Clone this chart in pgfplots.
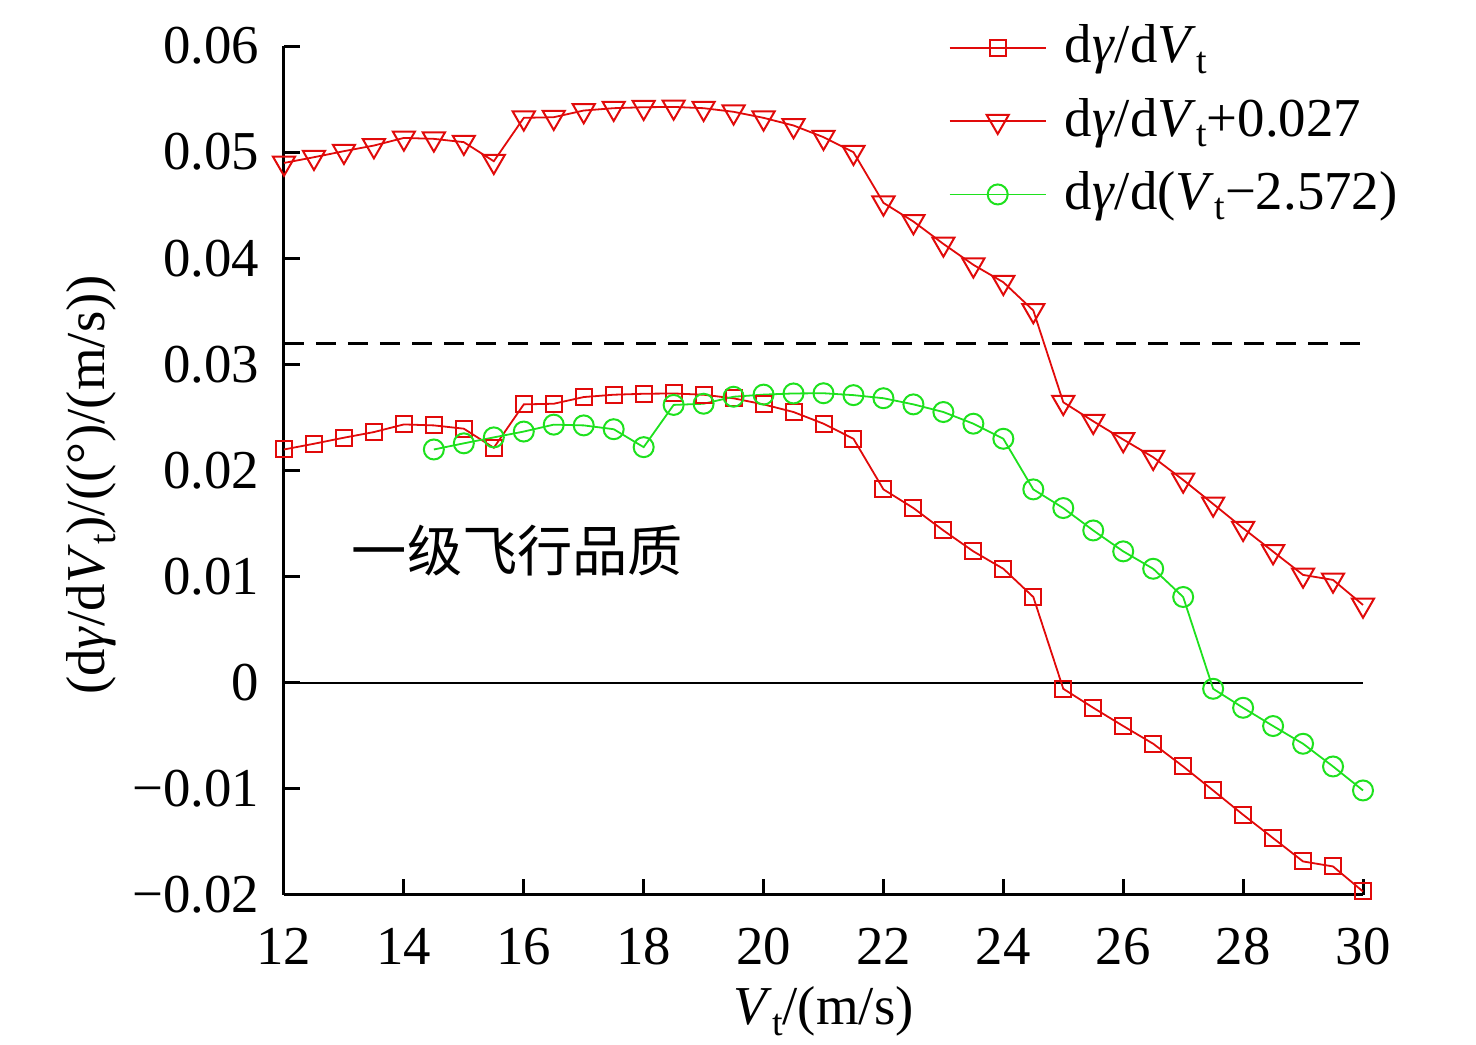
\documentclass[border=0pt]{standalone}
\usepackage{fontspec}
\setmainfont{Liberation Serif}
\newfontfamily\cjk{Noto Sans CJK SC}
\usepackage{pgfplots}
\usepackage{pgfplotstable}
\pgfplotsset{compat=1.18}
\definecolor{myred}{RGB}{225,10,10}
\definecolor{mygreen}{RGB}{30,225,30}
\newcommand\sub[1]{\raisebox{-2.6pt}{\fontsize{9.5pt}{10pt}\selectfont #1}}

\pgfplotstableread{
x y
12 0.02198
12.5 0.02252
13 0.02309
13.5 0.02362
14 0.02434
14.5 0.02425
15 0.02394
15.5 0.02214
16 0.02623
16.5 0.02629
17 0.02692
17.5 0.02714
18 0.02723
18.5 0.02726
19 0.02714
19.5 0.02680
20 0.02623
20.5 0.02551
21 0.02441
21.5 0.02299
22 0.01822
22.5 0.01646
23 0.01435
23.5 0.01238
24 0.01074
24.5 0.00808
25 -0.00057
25.5 -0.00236
26 -0.00408
26.5 -0.00575
27 -0.00789
27.5 -0.01015
28 -0.01244
28.5 -0.01464
29 -0.01684
29.5 -0.01731
30 -0.01967
}\tabA

\pgfplotstableread{
x y
12 0.04898
12.5 0.04952
13 0.05009
13.5 0.05062
14 0.05134
14.5 0.05125
15 0.05094
15.5 0.04914
16 0.05323
16.5 0.05329
17 0.05392
17.5 0.05414
18 0.05423
18.5 0.05426
19 0.05414
19.5 0.05380
20 0.05323
20.5 0.05251
21 0.05141
21.5 0.04999
22 0.04522
22.5 0.04346
23 0.04135
23.5 0.03938
24 0.03774
24.5 0.03508
25 0.02643
25.5 0.02464
26 0.02292
26.5 0.02125
27 0.01911
27.5 0.01685
28 0.01456
28.5 0.01236
29 0.01016
29.5 0.00969
30 0.00733
}\tabB

\pgfplotstableread{
x y
14.5 0.02198
15 0.02256
15.5 0.02312
16 0.02367
16.5 0.02432
17 0.02425
17.5 0.02389
18 0.02220
18.5 0.02618
19 0.02629
19.5 0.02695
20 0.02715
20.5 0.02726
21 0.02728
21.5 0.02710
22 0.02681
22.5 0.02623
23 0.02551
23.5 0.02441
24 0.02299
24.5 0.01822
25 0.01646
25.5 0.01435
26 0.01238
26.5 0.01074
27 0.00808
27.5 -0.00057
28 -0.00236
28.5 -0.00408
29 -0.00575
29.5 -0.00789
30 -0.01015
}\tabC

\begin{document}
\fontsize{13.7pt}{16pt}\selectfont
\begin{tikzpicture}
\useasboundingbox (-71pt,-37.5pt) rectangle (298pt,223.75pt);
\begin{axis}[
  scale only axis,
  width=269.75pt, height=212.25pt,
  xmin=12, xmax=30, ymin=-0.02, ymax=0.06,
  axis x line*=bottom, axis y line*=left,
  axis line style={line width=0.75pt},
  tick style={line width=0.75pt, black},
  tick align=inside,
  major tick length=4pt,
  xtick={12,14,16,18,20,22,24,26,28,30},
  xticklabels={12,14,16,18,20,22,24,26,28,30},
  ytick={-0.02,-0.01,0,0.01,0.02,0.03,0.04,0.05,0.06},
  yticklabels={−0.02,−0.01,0,0.01,0.02,0.03,0.04,0.05,0.06},
  scaled y ticks=false,
  xticklabel style={yshift=-3.5pt},
  yticklabel style={xshift=-1.5pt},
  clip=false,
  xlabel={\textit{V}\sub{t}/(m/s)},
  xlabel style={at={(axis description cs:0.5,0)}, anchor=base, yshift=-32.5pt},
  ylabel={(d\textit{γ}/d\textit{V}\sub{t})/((°)/(m/s))},
  ylabel style={at={(axis description cs:-0.1659,0.483)}, anchor=base},
  legend cell align=left,
  legend style={at={(0.6154,1.0353)}, anchor=north west, draw=none, fill=none,
    inner sep=0pt, row sep=2.75pt,
    /tikz/every odd column/.append style={column sep=2.5pt},
    /tikz/every even column/.append style={column sep=3.5pt}},
  legend image code/.code={\draw[mark repeat=2,mark phase=2,#1] plot coordinates {(0pt,0pt) (12pt,0pt) (24pt,0pt)};},
]
\addplot[black, line width=0.5pt, forget plot] coordinates {(12,0) (30,0)};
\addplot[black, line width=0.75pt, dash pattern=on 5pt off 3pt, forget plot] coordinates {(12,0.032) (30,0.032)};
\addplot[myred, line width=0.45pt, mark=square, mark size=2pt, mark options={solid, line width=0.5pt}] table[x=x,y=y] {\tabA};
\addlegendentry{d\textit{γ}/d\textit{V}\sub{t}}
\addplot[myred, line width=0.45pt, mark=triangle, mark size=3.2pt, mark options={solid, rotate=180, line width=0.5pt}] table[x=x,y=y] {\tabB};
\addlegendentry{d\textit{γ}/d\textit{V}\sub{t}+0.027}
\addplot[mygreen, line width=0.45pt, mark=o, mark size=2.5pt, mark options={solid, line width=0.5pt}] table[x=x,y=y] {\tabC};
\addlegendentry{d\textit{γ}/d(\textit{V}\sub{t}−2.572)}
\node[anchor=center, font=\cjk\fontsize{13.8pt}{16pt}\selectfont] at (axis cs:15.896,0.01244) {一级飞行品质};
\end{axis}
\end{tikzpicture}
\end{document}
